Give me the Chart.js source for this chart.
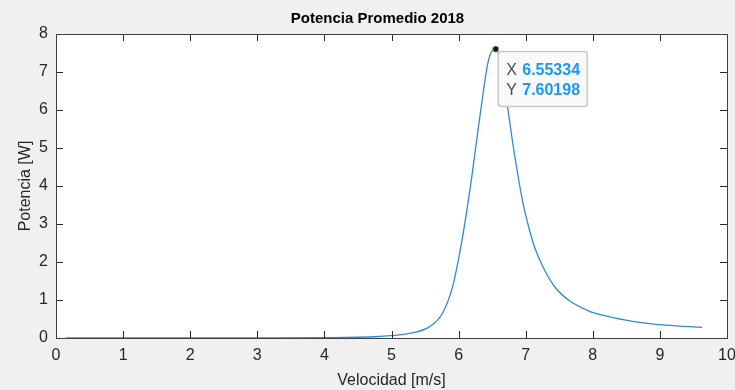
<!DOCTYPE html>
<html>
<head>
<meta charset="utf-8">
<script src="https://cdn.jsdelivr.net/npm/chart.js@4"></script>
<style>
    html, body { margin: 0; padding: 0; background: #f0f0f0; }
    #wrap { width: 735px; height: 390px; position: relative; }
</style>
</head>
<body>
<div id="wrap"><canvas id="chart" width="735" height="390"></canvas></div>
<script>
// values
const velocidad = [0.15, 1, 2, 3, 4, 4.5, 4.82, 5.0, 5.27, 5.57, 5.76, 5.91, 6.06, 6.19, 6.28, 6.37, 6.43, 6.48, 6.55334, 6.6, 6.66, 6.73, 6.8, 6.88, 6.95, 7.03, 7.13, 7.28, 7.45, 7.67, 7.97, 8.1, 8.32, 8.59, 9.09, 9.63];
const potencia = [0, 0, 0, 0.003, 0.01, 0.02, 0.04, 0.06, 0.12, 0.30, 0.65, 1.35, 2.67, 4.16, 5.35, 6.5, 7.18, 7.5, 7.60198, 7.45, 6.95, 6.09, 5.21, 4.33, 3.63, 3.02, 2.40, 1.79, 1.31, 0.96, 0.69, 0.62, 0.53, 0.44, 0.34, 0.28];
const xTicks = [0, 1, 2, 3, 4, 5, 6, 7, 8, 9, 10];
const yTicks = [0, 1, 2, 3, 4, 5, 6, 7, 8];
const peakX = 6.55334;
const peakY = 7.60198;
const titulo = 'Potencia Promedio 2018';

const FONT = "'Liberation Sans', Arial, sans-serif";
const AXIS = '#262626';

// white plot area, box, inward ticks, title and data tip
const matlabAxes = {
    id: 'matlabAxes',
    beforeDraw(chart) {
        const { ctx, chartArea: a } = chart;
        ctx.save();
        ctx.fillStyle = '#ffffff';
        ctx.fillRect(a.left, a.top, a.right - a.left, a.bottom - a.top);
        ctx.restore();
    },
    afterDatasetsDraw(chart) {
        const { ctx, chartArea: a, scales: { x, y } } = chart;
        ctx.save();
        ctx.strokeStyle = AXIS;
        ctx.lineWidth = 1;
        ctx.beginPath();
        xTicks.forEach(v => {
            const px = Math.round(x.getPixelForValue(v)) + 0.5;
            ctx.moveTo(px, a.bottom); ctx.lineTo(px, a.bottom - 7);
            ctx.moveTo(px, a.top); ctx.lineTo(px, a.top + 7);
        });
        yTicks.forEach(v => {
            const py = Math.round(y.getPixelForValue(v)) + 0.5;
            ctx.moveTo(a.left, py); ctx.lineTo(a.left + 7, py);
            ctx.moveTo(a.right, py); ctx.lineTo(a.right - 7, py);
        });
        ctx.stroke();
        ctx.strokeStyle = '#404040';
        ctx.strokeRect(Math.round(a.left) + 0.5, Math.round(a.top) + 0.5,
            Math.round(a.right - a.left), Math.round(a.bottom - a.top));

        ctx.fillStyle = '#000000';
        ctx.font = 'bold 15px ' + FONT;
        ctx.textAlign = 'center';
        ctx.textBaseline = 'middle';
        ctx.fillText(titulo, chart.width / 2 + 10, 19);

        // data tip
        const px = x.getPixelForValue(peakX);
        const py = y.getPixelForValue(peakY);
        const bx = px + 2.5, by = py + 2.5, bw = 89, bh = 55;
        ctx.beginPath();
        ctx.roundRect(bx, by, bw, bh, 3);
        ctx.fillStyle = '#f9f9fb';
        ctx.fill();
        ctx.strokeStyle = '#c9c9c9';
        ctx.lineWidth = 1.5;
        ctx.stroke();
        ctx.textAlign = 'left';
        ctx.font = '16px ' + FONT;
        ctx.fillStyle = '#4a4a4a';
        ctx.fillText('X', bx + 8, by + 19);
        ctx.fillText('Y', bx + 8, by + 39);
        ctx.fillStyle = '#1a98f5';
        ctx.font = 'bold 16px ' + FONT;
        ctx.fillText(peakX.toFixed(5), bx + 24, by + 19);
        ctx.fillText(peakY.toFixed(5), bx + 24, by + 39);

        ctx.beginPath();
        ctx.arc(px, py, 3.2, 0, Math.PI * 2);
        ctx.fillStyle = '#1a1a1a';
        ctx.fill();
        ctx.strokeStyle = '#d8d08a';
        ctx.lineWidth = 0.8;
        ctx.stroke();
        ctx.restore();
    }
};

new Chart(document.getElementById('chart'), {
    type: 'line',
    data: {
        datasets: [{
            data: velocidad.map((v, i) => ({ x: v, y: potencia[i] })),
            borderColor: '#2f8ad0',
            borderWidth: 1.3,
            pointRadius: 0,
            fill: false,
            cubicInterpolationMode: 'monotone'
        }]
    },
    options: {
        responsive: false,
        animation: false,
        layout: { padding: { top: 34, right: 8, bottom: 0, left: 0 } },
        plugins: {
            legend: { display: false },
            tooltip: { enabled: false }
        },
        scales: {
            x: {
                type: 'linear',
                min: 0, max: 10,
                afterBuildTicks: s => { s.ticks = xTicks.map(v => ({ value: v })); },
                afterFit: s => { s.height = 52; s.paddingLeft = 0; s.paddingRight = 0; },
                grid: { display: false, drawTicks: false },
                border: { display: false },
                ticks: { color: AXIS, padding: 8, maxRotation: 0, font: { family: FONT, size: 16 } },
                title: {
                    display: true,
                    text: 'Velocidad [m/s]',
                    color: AXIS,
                    padding: { top: 2, bottom: 0 },
                    font: { family: FONT, size: 16 }
                }
            },
            y: {
                min: 0, max: 8,
                afterBuildTicks: s => { s.ticks = yTicks.map(v => ({ value: v })); },
                afterFit: s => { s.width = 56; s.paddingTop = 0; s.paddingBottom = 0; },
                grid: { display: false, drawTicks: false },
                border: { display: false },
                ticks: { color: AXIS, padding: 8, font: { family: FONT, size: 16 } },
                title: {
                    display: true,
                    text: 'Potencia [W]',
                    color: AXIS,
                    padding: { top: 16, bottom: 0 },
                    font: { family: FONT, size: 16 }
                }
            }
        }
    },
    plugins: [matlabAxes]
});
</script>
</body>
</html>
